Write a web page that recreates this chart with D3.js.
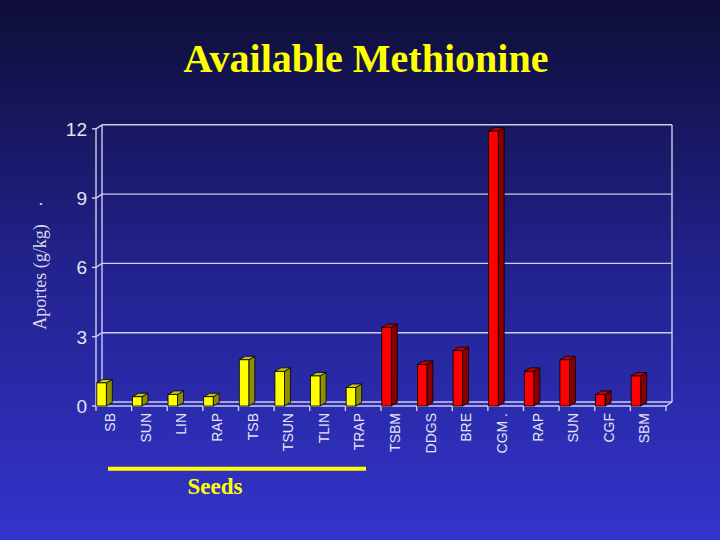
<!DOCTYPE html>
<html>
<head>
<meta charset="utf-8">
<script src="https://cdn.jsdelivr.net/npm/d3@7"></script>
<style>
  html, body { margin: 0; padding: 0; }
  body { width: 720px; height: 540px; overflow: hidden; }
</style>
</head>
<body>
<script>
// data
const categorias = ["SB", "SUN", "LIN", "RAP", "TSB", "TSUN", "TLIN", "TRAP",
                    "TSBM", "DDGS", "BRE", "CGM .", "RAP", "SUN", "CGF", "SBM"];
const grupos = ["seed", "seed", "seed", "seed", "seed", "seed", "seed", "seed",
                "meal", "meal", "meal", "meal", "meal", "meal", "meal", "meal"];
const valores = [1.0, 0.4, 0.5, 0.4, 2.0, 1.5, 1.3, 0.8,
                 3.4, 1.8, 2.4, 11.9, 1.5, 2.0, 0.5, 1.3];
const ticksY = [0, 3, 6, 9, 12];

const W = 720, H = 540;
const dx = 6, dy = -4;     // depth of the back wall
const bdx = 6, bdy = -3.5; // depth of the bars

svg = d3.select("body")
  .append("svg")
  .attr("width", W)
  .attr("height", H);

var grad = svg.append("defs").append("linearGradient")
  .attr("id", "fundo")
  .attr("x1", 0).attr("y1", 0).attr("x2", 0).attr("y2", 1);
grad.append("stop").attr("offset", "0%").attr("stop-color", "#0e0e38");
grad.append("stop").attr("offset", "50%").attr("stop-color", "#22228e");
grad.append("stop").attr("offset", "100%").attr("stop-color", "#3434cc");

svg.append("rect")
  .attr("width", W).attr("height", H)
  .attr("fill", "url(#fundo)");

var escalaX = d3.scaleBand()
  .domain(d3.range(categorias.length))
  .range([96, 666])
  .padding(0);

var escalaY = d3.scaleLinear()
  .domain([0, 12])
  .range([406, 128.8]);

// front, side, top
var escalaCor = d3.scaleOrdinal()
  .domain(["seed", "meal"])
  .range([["#ffff00", "#8e8e00", "#c4c418"], ["#ff0000", "#8a0000", "#c40000"]]);

const corLinha = "#cdcdee";
const xEsq = escalaX.range()[0], xDir = escalaX.range()[1];
const y0 = escalaY(0);

// back wall + gridlines (0 line is the back edge of the floor)
var grade = svg.append("g").attr("stroke", corLinha).attr("fill", "none").attr("stroke-width", 1.4);

ticksY.forEach(function(t) {
  var y = escalaY(t);
  grade.append("line").attr("x1", xEsq - 4).attr("x2", xEsq).attr("y1", y).attr("y2", y);
  grade.append("line").attr("x1", xEsq).attr("y1", y).attr("x2", xEsq + dx).attr("y2", y + dy);
  grade.append("line").attr("x1", xEsq + dx).attr("x2", xDir + dx).attr("y1", y + dy).attr("y2", y + dy);
});
// walls
grade.append("line").attr("x1", xEsq).attr("x2", xEsq).attr("y1", y0).attr("y2", escalaY(12));
grade.append("line").attr("x1", xEsq + dx).attr("x2", xEsq + dx).attr("y1", y0 + dy).attr("y2", escalaY(12) + dy);
grade.append("line").attr("x1", xDir + dx).attr("x2", xDir + dx).attr("y1", y0 + dy).attr("y2", escalaY(12) + dy);
// floor
grade.append("line").attr("x1", xEsq).attr("x2", xDir).attr("y1", y0).attr("y2", y0);
grade.append("line").attr("x1", xDir).attr("y1", y0).attr("x2", xDir + dx).attr("y2", y0 + dy);

// x ticks on band edges
d3.range(categorias.length + 1).forEach(function(i) {
  var x = xEsq + i * escalaX.bandwidth();
  grade.append("line").attr("x1", x).attr("x2", x).attr("y1", y0).attr("y2", y0 + 5);
});

// y labels
svg.selectAll(".ylab")
  .data(ticksY)
  .enter().append("text")
  .attr("x", 87)
  .attr("y", d => escalaY(d))
  .attr("dy", "0.36em")
  .attr("text-anchor", "end")
  .attr("font-family", "Liberation Sans, Arial, sans-serif")
  .attr("font-size", 19)
  .attr("fill", "#e4e4f4")
  .text(d => d);

// bars
var barras = svg.selectAll(".barra")
  .data(valores)
  .enter().append("g");

barras.each(function(v, i) {
  var g = d3.select(this);
  var cores = escalaCor(grupos[i]);
  var x = escalaX(i) + 0.8;
  var w = 9.5;
  var yv = escalaY(v);
  g.append("path")
    .attr("d", `M${x + w},${yv} L${x + w + bdx},${yv + bdy} L${x + w + bdx},${y0 + bdy} L${x + w},${y0} Z`)
    .attr("fill", cores[1]).attr("stroke", "#000").attr("stroke-width", 0.8);
  g.append("path")
    .attr("d", `M${x},${yv} L${x + bdx},${yv + bdy} L${x + w + bdx},${yv + bdy} L${x + w},${yv} Z`)
    .attr("fill", cores[2]).attr("stroke", "#000").attr("stroke-width", 0.8);
  g.append("rect")
    .attr("x", x).attr("y", yv)
    .attr("width", w).attr("height", y0 - yv)
    .attr("fill", cores[0]).attr("stroke", "#000").attr("stroke-width", 0.8);
});

// category labels
svg.selectAll(".xlab")
  .data(categorias)
  .enter().append("text")
  .attr("transform", (d, i) => `translate(${escalaX(i) + 14},${y0 + 7}) rotate(-90)`)
  .attr("dy", "0.36em")
  .attr("text-anchor", "end")
  .attr("font-family", "Liberation Sans, Arial, sans-serif")
  .attr("font-size", 14)
  .attr("fill", "#e4e4f4")
  .text(d => d);

// axis title
svg.append("text")
  .attr("transform", "translate(40,277) rotate(-90)")
  .attr("dy", "0.35em")
  .attr("text-anchor", "middle")
  .attr("font-family", "Liberation Serif, Times New Roman, serif")
  .attr("font-size", 18)
  .attr("fill", "#d8d8ea")
  .text("Aportes (g/kg)");
svg.append("text")
  .attr("transform", "translate(42,204) rotate(-90)")
  .attr("text-anchor", "middle")
  .attr("font-family", "Liberation Serif, Times New Roman, serif")
  .attr("font-size", 18)
  .attr("fill", "#d8d8ea")
  .text(".");

// title
svg.append("text")
  .attr("x", 366).attr("y", 72)
  .attr("text-anchor", "middle")
  .attr("font-family", "Liberation Serif, Times New Roman, serif")
  .attr("font-weight", "bold")
  .attr("font-size", 40)
  .attr("fill", "#ffff00")
  .text("Available Methionine");

// seeds bracket
svg.append("line")
  .attr("x1", 108).attr("x2", 366)
  .attr("y1", 468.7).attr("y2", 468.7)
  .attr("stroke", "#ffff00").attr("stroke-width", 4);
svg.append("text")
  .attr("x", 215).attr("y", 494)
  .attr("text-anchor", "middle")
  .attr("font-family", "Liberation Serif, Times New Roman, serif")
  .attr("font-weight", "bold")
  .attr("font-size", 23)
  .attr("fill", "#ffff00")
  .text("Seeds");
</script>
</body>
</html>
